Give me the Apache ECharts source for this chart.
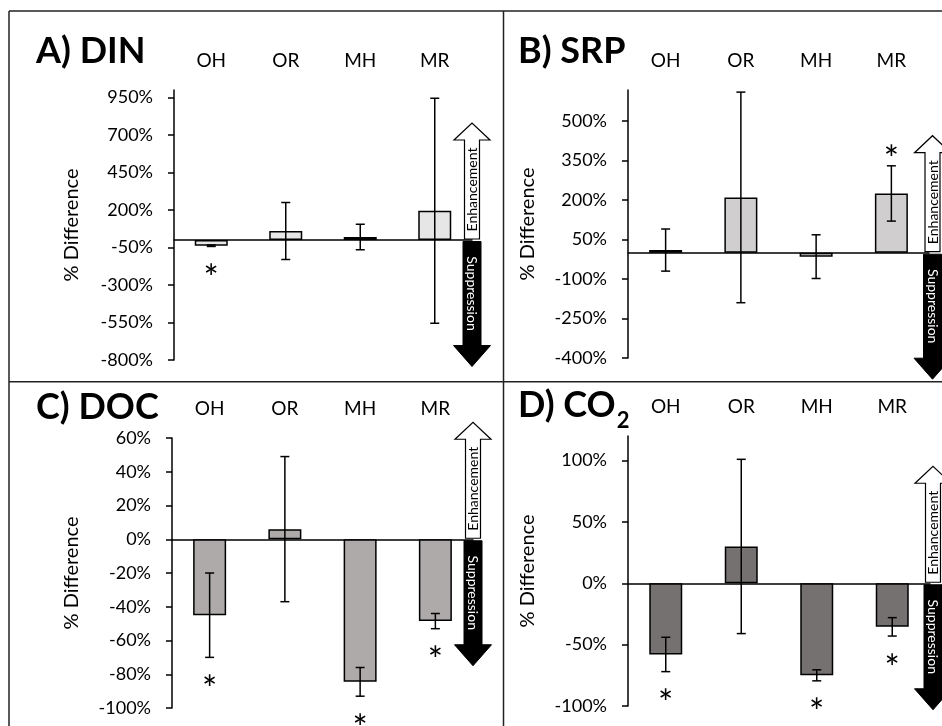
<!DOCTYPE html>
<html><head><meta charset="utf-8">
<script src="https://cdn.jsdelivr.net/npm/echarts@6/dist/echarts.min.js"></script>
<style>html,body{margin:0;padding:0;background:#fff}#c{width:942px;height:726px}</style>
</head><body><div id="c"></div>
<script>
// ---------- data ----------
const categories = ['OH', 'OR', 'MH', 'MR'];

const dinMean = [-38, 60, 20, 195];
const dinErr  = [5, 190, 85, 750];
const dinSig  = [1, 0, 0, 0];
const dinTicks = [-800, -550, -300, -50, 200, 450, 700, 950];

const srpMean = [10, 210, -15, 225];
const srpErr  = [80, 400, 83, 105];
const srpSig  = [0, 0, 0, 1];
const srpTicks = [-400, -250, -100, 50, 200, 350, 500];

const docMean = [-45, 6, -84.5, -48.5];
const docErr  = [25, 43, 8.5, 4.5];
const docSig  = [1, 0, 1, 1];
const docTicks = [-100, -80, -60, -40, -20, 0, 20, 40, 60];

const co2Mean = [-58, 30, -75, -35.5];
const co2Err  = [14, 71, 4.5, 7.5];
const co2Sig  = [1, 0, 1, 1];
const co2Ticks = [-100, -50, 0, 50, 100];

const yAxisTitle = '% Difference';
const upLabel = 'Enhancement';
const downLabel = 'Suppression';

// ---------- layout / style ----------
const FONT = 'Lato, "Open Sans", sans-serif';
const panels = [
  {title: 'A) DIN', mean: dinMean, err: dinErr, sig: dinSig, ticks: dinTicks, min: -800, max: 1000,
   color: '#E7E6E6', grid: {left: 174, top: 90, width: 298, height: 270}, arrowX: 472, tx: 36, ty: 50, nameGap: 92},
  {title: 'B) SRP', mean: srpMean, err: srpErr, sig: srpSig, ticks: srpTicks, min: -400, max: 618,
   color: '#D0CECE', grid: {left: 628, top: 90, width: 301, height: 268}, arrowX: 932.5, tx: 518, ty: 50, nameGap: 90},
  {title: 'C) DOC', mean: docMean, err: docErr, sig: docSig, ticks: docTicks, min: -100, max: 60,
   color: '#AEAAAA', grid: {left: 172, top: 438, width: 301, height: 270}, arrowX: 473, tx: 36, ty: 405.5, nameGap: 90},
  {title: 'D) CO', sub: '2', mean: co2Mean, err: co2Err, sig: co2Sig, ticks: co2Ticks, min: -100, max: 120,
   color: '#767171', grid: {left: 628, top: 436, width: 302, height: 270}, arrowX: 933, tx: 518, ty: 404, nameGap: 90}
];

const chart = echarts.init(document.getElementById('c'), null, {renderer: 'canvas'});

const grid = [], xAxis = [], yAxis = [], series = [];
panels.forEach((p, i) => {
  grid.push(Object.assign({}, p.grid));
  xAxis.push({
    type: 'category', gridIndex: i, data: categories, position: 'top',
    axisLine: {show: false, onZero: false}, axisTick: {show: false},
    axisLabel: {fontFamily: FONT, fontSize: 19, color: '#000', margin: 20}
  });
  xAxis.push({
    type: 'category', gridIndex: i, data: categories, position: 'bottom',
    axisLine: {show: true, onZero: true, lineStyle: {color: '#000', width: 1.5}},
    axisTick: {show: false}, axisLabel: {show: false}
  });
  yAxis.push({
    type: 'value', gridIndex: i, min: p.min, max: p.max,
    axisLine: {show: true, onZero: false, lineStyle: {color: '#000', width: 1.5}},
    axisTick: {show: true, length: 6, lineStyle: {color: '#000', width: 1.5}, customValues: p.ticks},
    axisLabel: {customValues: p.ticks, formatter: v => v + '%', fontFamily: FONT, fontSize: 18, color: '#000', margin: 21},
    splitLine: {show: false},
    name: yAxisTitle, nameLocation: 'middle', nameGap: p.nameGap, nameRotate: 90,
    nameTextStyle: {fontFamily: FONT, fontSize: 20, color: '#000'}
  });
  series.push({
    type: 'bar', xAxisIndex: 2 * i, yAxisIndex: i, data: p.mean, barWidth: 33,
    itemStyle: {color: p.color, borderColor: '#000', borderWidth: 1.5},
    silent: true, animation: false
  });
  series.push({
    type: 'custom', xAxisIndex: 2 * i, yAxisIndex: i, animation: false, silent: true, z: 5,
    data: categories.map((c, k) => [k, p.mean[k], p.err[k], p.sig[k]]),
    encode: {x: 0, y: 1},
    renderItem: (params, api) => {
      const idx = api.value(0), m = api.value(1), e = api.value(2), s = api.value(3);
      const hi = api.coord([idx, m + e]), lo = api.coord([idx, m - e]);
      const x = hi[0], w = 4.5;
      const st = {stroke: '#000', lineWidth: 1.5};
      const ch = [
        {type: 'line', shape: {x1: x, y1: hi[1], x2: x, y2: lo[1]}, style: st},
        {type: 'line', shape: {x1: x - w, y1: hi[1], x2: x + w, y2: hi[1]}, style: st},
        {type: 'line', shape: {x1: x - w, y1: lo[1], x2: x + w, y2: lo[1]}, style: st}
      ];
      if (s) {
        const gy = m >= 0 ? hi[1] - 16 : lo[1] + 22;
        ch.push({type: 'text', x: x, y: gy + 11,
          style: {text: '*', fontFamily: FONT, fontSize: 36, fill: '#000', align: 'center', verticalAlign: 'middle'}});
      }
      return {type: 'group', children: ch};
    }
  });
});

chart.setOption({animation: false, backgroundColor: '#fff', grid, xAxis, yAxis, series});

// ---------- annotations ----------
const measure = document.createElement('canvas').getContext('2d');
const graphic = [];
const bl = {stroke: '#222', lineWidth: 1.5};
[[9, 11, 950, 11], [9, 11, 9, 730], [503.5, 11, 503.5, 730], [9, 381.7, 950, 381.7]].forEach(l => {
  graphic.push({type: 'line', shape: {x1: l[0], y1: l[1], x2: l[2], y2: l[3]}, style: bl, silent: true});
});
panels.forEach((p, i) => {
  graphic.push({type: 'text', x: p.tx, y: p.ty + 1.5,
    style: {text: p.title, fontFamily: FONT, fontWeight: 'bold', fontSize: 36, fill: '#000', align: 'left', verticalAlign: 'middle'}});
  if (p.sub) {
    measure.font = 'bold 36px ' + FONT;
    const w = measure.measureText(p.title).width;
    graphic.push({type: 'text', x: p.tx + w + 1, y: p.ty + 17,
      style: {text: p.sub, fontFamily: FONT, fontWeight: 'bold', fontSize: 22, fill: '#000', align: 'left', verticalAlign: 'middle'}});
  }
  const zero = chart.convertToPixel({yAxisIndex: i}, 0);
  const cx = p.arrowX;
  const yb = zero - 1, yt = yb - 116, hh = 17;
  graphic.push({type: 'polygon', z: 10,
    shape: {points: [[cx - 7.5, yb], [cx - 7.5, yt + hh], [cx - 18, yt + hh], [cx, yt], [cx + 18, yt + hh], [cx + 7.5, yt + hh], [cx + 7.5, yb]]},
    style: {fill: '#fff', stroke: '#000', lineWidth: 1.2}});
  graphic.push({type: 'text', z: 11, x: cx + 0.5, y: (yb + yt + hh) / 2, rotation: Math.PI / 2,
    style: {text: upLabel, fontFamily: FONT, fontSize: 14, fill: '#000', align: 'center', verticalAlign: 'middle'}});
  const ytop = zero + 1.5, ybot = ytop + 125, dh = 21;
  graphic.push({type: 'polygon', z: 10,
    shape: {points: [[cx - 9, ytop], [cx + 9, ytop], [cx + 9, ybot - dh], [cx + 18.5, ybot - dh], [cx, ybot], [cx - 18.5, ybot - dh], [cx - 9, ybot - dh]]},
    style: {fill: '#000', stroke: '#000', lineWidth: 1}});
  graphic.push({type: 'text', z: 11, x: cx, y: (ytop + ybot - dh) / 2, rotation: -Math.PI / 2,
    style: {text: downLabel, fontFamily: FONT, fontSize: 14, fill: '#fff', align: 'center', verticalAlign: 'middle'}});
});
chart.setOption({graphic});
</script></body></html>
